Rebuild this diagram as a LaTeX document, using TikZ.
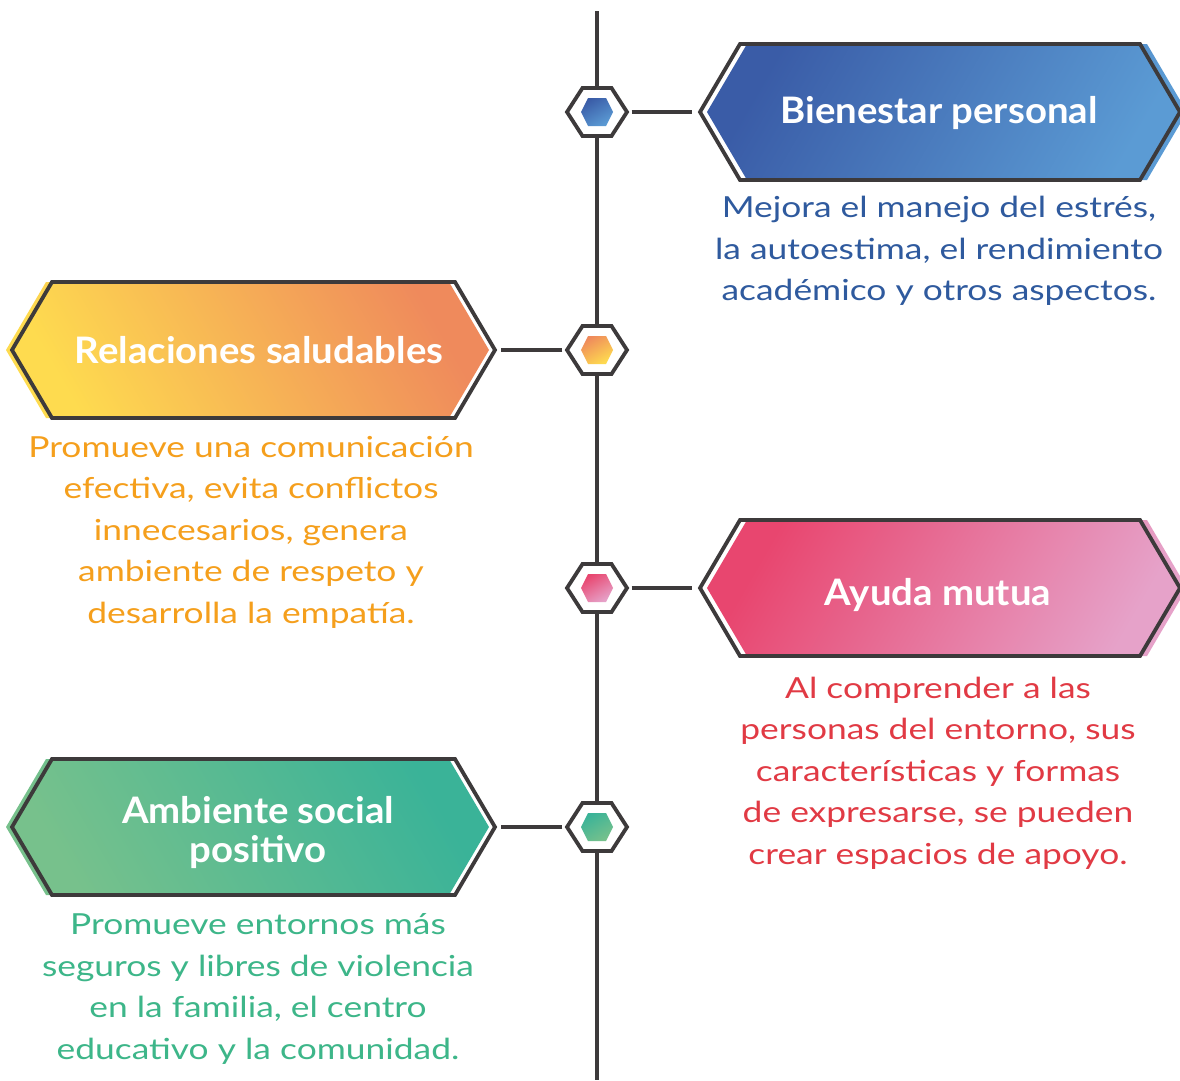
\documentclass[tikz,border=0pt]{standalone}
\usepackage{fontspec}
\setmainfont{Lato}
\newfontfamily\bodyfont[FakeStretch=1.22]{Lato}
\newfontfamily\headfont[FakeStretch=1.05]{Lato}
\definecolor{lineC}{HTML}{3D3A3B}
\definecolor{blueA}{HTML}{3A5CA7}
\definecolor{blueB}{HTML}{5B9BD4}
\definecolor{yelA}{HTML}{FEDB4F}
\definecolor{yelB}{HTML}{EF8A5C}
\definecolor{pinkA}{HTML}{E8466F}
\definecolor{pinkB}{HTML}{E6A2C9}
\definecolor{grnA}{HTML}{77C18C}
\definecolor{grnB}{HTML}{3AB398}
\definecolor{txtBlue}{HTML}{2F5A9E}
\definecolor{txtOrange}{HTML}{F59F1C}
\definecolor{txtRed}{HTML}{E13A44}
\definecolor{txtGreen}{HTML}{3DB689}
\tikzset{
  outline/.style={draw=lineC, line width=3.8pt, line join=miter},
  conn/.style={draw=lineC, line width=3.8pt},
  slot/.style={inner sep=0pt, minimum width=59pt, minimum height=48pt},
  bannerbox/.style={inner sep=0pt, minimum width=480pt, minimum height=136pt},
  title/.style={text=white, align=center, font=\headfont\bfseries\fontsize{36.5}{39}\selectfont},
  body/.style={align=center, font=\bodyfont\fontsize{29}{41.5}\selectfont}
}
% right banner: #1 center y, #2 colour A, #3 colour B, #4 angle
\newcommand\rbanner[4]{%
  \shade[left color=#2, right color=#3, shading angle=#4]
    (707,#1) -- (747,{#1-68}) -- (1147,{#1-68}) -- (1187,#1) -- (1147,{#1+68}) -- (747,{#1+68}) -- cycle;
  \draw[outline] (700,#1) -- (740,{#1-68}) -- (1140,{#1-68}) -- (1180,#1) -- (1140,{#1+68}) -- (740,{#1+68}) -- cycle;
}
\newcommand\lbanner[4]{%
  \shade[left color=#2, right color=#3, shading angle=#4]
    (6,#1) -- (46,{#1-68}) -- (449,{#1-68}) -- (489,#1) -- (449,{#1+68}) -- (46,{#1+68}) -- cycle;
  \draw[outline] (12,#1) -- (52,{#1-68}) -- (455,{#1-68}) -- (495,#1) -- (455,{#1+68}) -- (52,{#1+68}) -- cycle;
}
% marker: #1 y, #2 top colour, #3 bottom colour
\newcommand\marker[3]{%
  \filldraw[outline, fill=white] (567,#1) -- (582.5,{#1-24}) -- (611.5,{#1-24}) -- (627,#1) -- (611.5,{#1+24}) -- (582.5,{#1+24}) -- cycle;
  \shade[top color=#2, bottom color=#3, shading angle=30]
    (581,#1) -- (588,{#1-14}) -- (606,{#1-14}) -- (613,#1) -- (606,{#1+14}) -- (588,{#1+14}) -- cycle;
}
\begin{document}
\begin{tikzpicture}[x=1pt,y=-1pt]
\useasboundingbox (0,0) rectangle (1180,1080);
\fill[white] (0,0) rectangle (1180,1080);
% timeline
\coordinate (top) at (597,11);
\coordinate (bot) at (597,1080);
\draw[conn] (top) -- (bot);
% banners
\rbanner{112}{blueA}{blueB}{60}
\lbanner{350}{yelA}{yelB}{120}
\rbanner{588}{pinkA}{pinkB}{60}
\lbanner{827}{grnA}{grnB}{120}
% markers
\marker{112}{blueA}{blueB}
\marker{350}{yelB}{yelA}
\marker{588}{pinkA}{pinkB}
\marker{827}{grnB}{grnA}
% named boxes
\node[slot] (m1) at (597,112) {};
\node[slot] (m2) at (597,350) {};
\node[slot] (m3) at (597,588) {};
\node[slot] (m4) at (597,827) {};
\node[bannerbox] (b1) at (940,112) {};
\node[bannerbox] (b2) at (253.5,350) {};
\node[bannerbox] (b3) at (940,588) {};
\node[bannerbox] (b4) at (253.5,827) {};
% connectors
\draw[conn, shorten <=5pt, shorten >=8pt] (m1.east) -- (b1.west);
\draw[conn, shorten <=5pt, shorten >=7pt] (m2.west) -- (b2.east);
\draw[conn, shorten <=5pt, shorten >=8pt] (m3.east) -- (b3.west);
\draw[conn, shorten <=5pt, shorten >=7pt] (m4.west) -- (b4.east);
% titles
\node[title] (t1) at (939,113) {Bienestar personal};
\node[title] (t2) at (259,350) {Relaciones saludables};
\node[title] (t3) at (938,595) {Ayuda mutua};
\node[title] (t4) at (258,832) {Ambiente social\\positivo};
% descriptions
\node[body, text=txtBlue] (d1) at (939,251) {Mejora el manejo del estrés,\\la autoestima, el rendimiento\\académico y otros aspectos.};
\node[body, text=txtOrange] (d2) at (251,532) {Promueve una comunicación\\efectiva, evita conflictos\\innecesarios, genera\\ambiente de respeto y\\desarrolla la empatía.};
\node[body, text=txtRed] (d3) at (938,773) {Al comprender a las\\personas del entorno, sus\\características y formas\\de expresarse, se pueden\\crear espacios de apoyo.};
\node[body, text=txtGreen] (d4) at (258,989) {Promueve entornos más\\seguros y libres de violencia\\en la familia, el centro\\educativo y la comunidad.};
\end{tikzpicture}
\end{document}
